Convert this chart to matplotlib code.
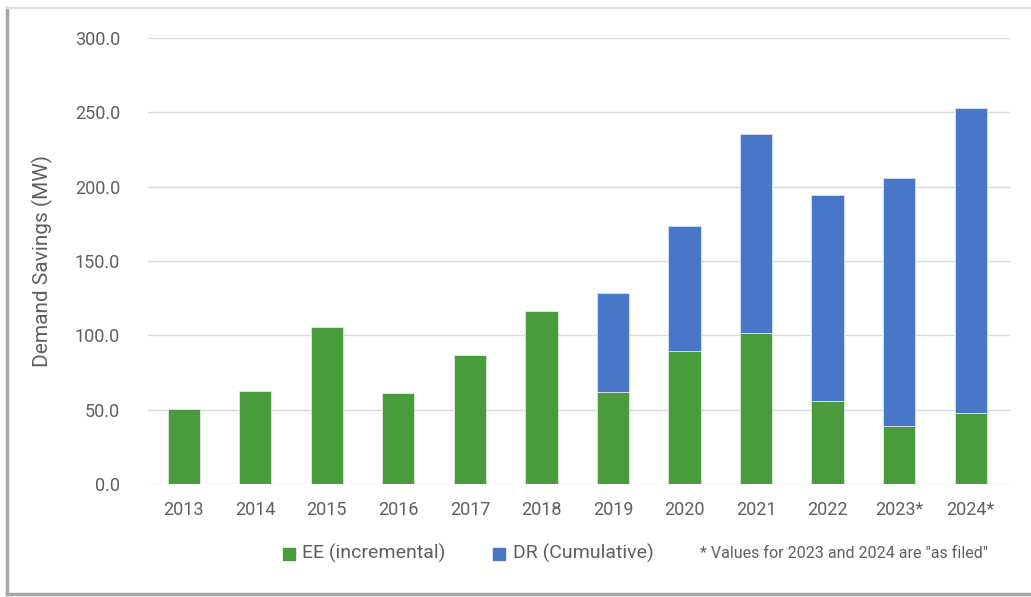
import matplotlib.pyplot as plt
from matplotlib.patches import Rectangle
from matplotlib.lines import Line2D

# --- data (MW) ---
years = ["2013", "2014", "2015", "2016", "2017", "2018",
         "2019", "2020", "2021", "2022", "2023*", "2024*"]
ee_vals = [50.2, 62.3, 105.6, 61.0, 86.8, 116.4,
           61.7, 89.5, 101.8, 56.0, 39.0, 47.5]
dr_vals = [0.0, 0.0, 0.0, 0.0, 0.0, 0.0,
           66.8, 84.0, 133.6, 138.4, 166.8, 205.6]
y_ticks = [0, 50, 100, 150, 200, 250, 300]

green = "#4A9A3E"
blue = "#4877C8"
txt = "#5f5f5f"

plt.rcParams["font.family"] = ["Roboto", "DejaVu Sans"]

fig = plt.figure(figsize=(10.31, 5.97), dpi=100)
ax = fig.add_axes([148 / 1031, 1 - 484 / 597, (1010 - 148) / 1031, (484 - 38) / 597])

x = list(range(len(years)))
ax.bar(x, ee_vals, width=0.45, color=green, edgecolor="#dfe9dc", linewidth=0.6, zorder=3)
ax.bar(x, dr_vals, width=0.45, bottom=ee_vals, color=blue, edgecolor="#dce3f2",
       linewidth=0.6, zorder=3)

ax.set_xlim(-0.5, len(years) - 0.45)
ax.set_ylim(0, 300)
ax.set_yticks(y_ticks)
ax.set_yticklabels([f"{v:.1f}" for v in y_ticks])
ax.set_xticks(x)
ax.set_xticklabels(years)
ax.yaxis.grid(True, color="#d9d9d9", linewidth=1.0, zorder=0)
ax.set_axisbelow(True)
for s in ax.spines.values():
    s.set_visible(False)
ax.tick_params(axis="both", length=0, labelsize=13, colors=txt)
ax.tick_params(axis="x", pad=12)
ax.tick_params(axis="y", pad=20)
ax.set_ylabel("Demand Savings (MW)", fontsize=15, color=txt, labelpad=16)

# legend and footnote along the bottom
fig.patches.append(Rectangle((283 / 1031, 1 - 560 / 597), 12 / 1031, 12 / 597,
                             transform=fig.transFigure, color=green))
fig.text(302 / 1031, 1 - 553 / 597, "EE (incremental)", fontsize=14, color=txt, va="center")
fig.patches.append(Rectangle((493 / 1031, 1 - 560 / 597), 12 / 1031, 12 / 597,
                             transform=fig.transFigure, color=blue))
fig.text(513 / 1031, 1 - 553 / 597, "DR (Cumulative)", fontsize=14, color=txt, va="center")
fig.text(700 / 1031, 1 - 553 / 597, '* Values for 2023 and 2024 are "as filed"',
         fontsize=11.5, color=txt, va="center")

# light frame around the picture
fig.lines.append(Line2D([7 / 1031, 7 / 1031], [1 - 8 / 597, 1 - 594 / 597],
                        transform=fig.transFigure, color="#a6a6a6", linewidth=2.5))
fig.lines.append(Line2D([7 / 1031, 1], [1 - 594 / 597, 1 - 594 / 597],
                        transform=fig.transFigure, color="#a6a6a6", linewidth=2.5))
fig.lines.append(Line2D([7 / 1031, 1], [1 - 8 / 597, 1 - 8 / 597],
                        transform=fig.transFigure, color="#e0e0e0", linewidth=1.5))

fig.savefig("out.png", dpi=100)
